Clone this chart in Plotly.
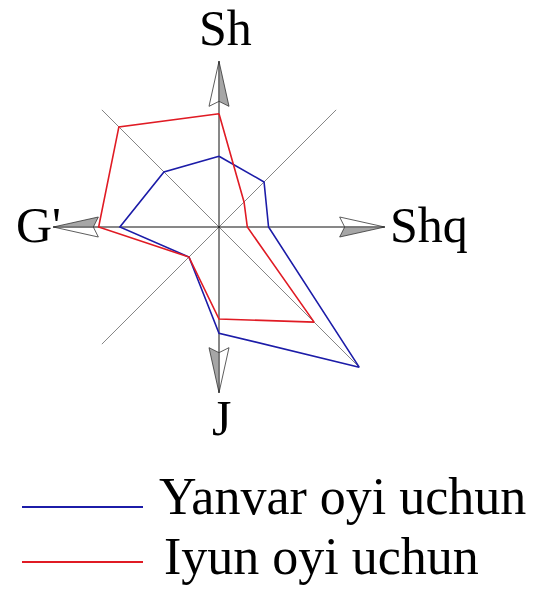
import numpy as np
import plotly.graph_objects as go

# wind directions (degrees, clockwise from north) and frequencies, %
directions = ["Sh", "ShSh", "Shq", "JShq", "J", "JG'", "G'", "ShG'"]
angles = [0, 45, 90, 135, 180, 225, 270, 315]
yanvar = [10, 9, 7, 28, 15, 6, 14, 11]
iyun = [16, 5, 4, 19, 13, 6, 17, 20]

series_names = ["Yanvar oyi uchun", "Iyun oyi uchun"]
series_colors = ["#1c1ca8", "#e01b24"]

W, H = 539, 589
OFF = 8                    # page body margin
cx, cy = 219, 227          # centre of the rose, px
unit = 7.08                # px per 1 %
rmax = 28.5
axis_len = 23.4
FONT = "Liberation Serif"


def px(x):
    return (x - OFF) / W


def py(y):
    return 1 - (y - OFF) / H


fig = go.Figure()

# diagonal guide lines (SE one reaches the longest ray)
for a in [45, 135, 225, 315]:
    L = axis_len
    if a == 135:
        L = max(yanvar[3], iyun[3])
    fig.add_trace(go.Scatterpolar(r=[0, L], theta=[a, a], mode="lines",
                                  line=dict(color="#666666", width=0.8),
                                  hoverinfo="skip", showlegend=False))

# main N-S and E-W axes
for a in [0, 90, 180, 270]:
    fig.add_trace(go.Scatterpolar(r=[0, axis_len], theta=[a, a], mode="lines",
                                  line=dict(color="#111111", width=1),
                                  hoverinfo="skip", showlegend=False))

# arrowheads: half white, half grey
head_len = 45 / unit
half_w = 10 / unit
notch = 5 / unit
back = axis_len - head_len
r_corner = np.hypot(back, half_w)
d_ang = np.degrees(np.arctan2(half_w, back))
for a in [0, 90, 180, 270]:
    for sign, fill in [(-1, "#ffffff"), (1, "#a6a6a6")]:
        fig.add_trace(go.Scatterpolar(
            r=[axis_len, r_corner, back + notch, axis_len],
            theta=[a, a + sign * d_ang, a, a],
            mode="lines", fill="toself", fillcolor=fill,
            line=dict(color="#333333", width=0.8),
            hoverinfo="skip", showlegend=False))

# wind rose polygons
for vals, name, col in zip([yanvar, iyun], series_names, series_colors):
    fig.add_trace(go.Scatterpolar(r=vals + vals[:1], theta=angles + angles[:1],
                                  mode="lines", name=name,
                                  line=dict(color=col, width=1.6),
                                  showlegend=False))

rad = rmax * unit
fig.update_layout(
    width=W, height=H,
    margin=dict(l=0, r=0, t=0, b=0),
    paper_bgcolor="white",
    polar=dict(
        domain=dict(x=[px(cx - rad), px(cx + rad)],
                    y=[py(cy + rad), py(cy - rad)]),
        bgcolor="white",
        radialaxis=dict(visible=False, range=[0, rmax]),
        angularaxis=dict(visible=False, direction="clockwise", rotation=90),
    ),
)

# compass labels (Sh gets a trimmed box so it stays inside the page)
labels = [("Sh", 225, 28, "center", 40), ("Shq", 388, 225, "left", None),
          ("G'", 14, 225, "left", None), ("J", 221, 418, "center", None)]
for txt, x, y, anc, hgt in labels:
    fig.add_annotation(text=txt, x=px(x), y=py(y), xref="paper", yref="paper",
                       xanchor=anc, yanchor="middle", showarrow=False,
                       height=hgt, valign="middle",
                       font=dict(family=FONT, size=50, color="black"))

# hand-made legend
legend_y = [507, 562]
for name, col, y in zip(series_names, series_colors, legend_y):
    fig.add_shape(type="line", xref="paper", yref="paper",
                  x0=px(22), x1=px(143), y0=py(y), y1=py(y),
                  line=dict(color=col, width=2))
for name, x, y in zip(series_names, [157, 162], [496, 556]):
    fig.add_annotation(text=name, x=px(x), y=py(y), xref="paper", yref="paper",
                       xanchor="left", yanchor="middle", showarrow=False,
                       font=dict(family=FONT, size=52, color="black"))

fig.write_html("out.html")
